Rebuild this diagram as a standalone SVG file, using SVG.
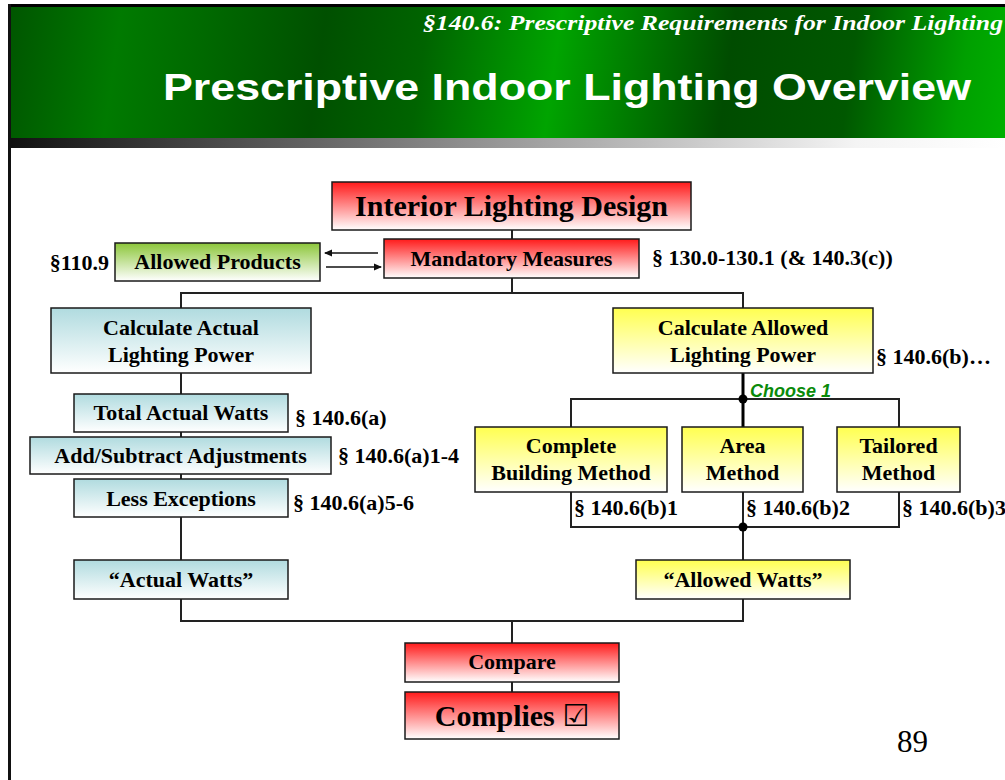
<svg xmlns="http://www.w3.org/2000/svg" width="1005" height="780" viewBox="0 0 1005 780">
<defs>
<linearGradient id="banner" x1="0" y1="0" x2="1005" y2="140" gradientUnits="userSpaceOnUse">
<stop offset="0" stop-color="#005200"/>
<stop offset="0.12" stop-color="#007a00"/>
<stop offset="0.2" stop-color="#006a00"/>
<stop offset="0.32" stop-color="#005000"/>
<stop offset="0.42" stop-color="#006400"/>
<stop offset="0.55" stop-color="#00a400"/>
<stop offset="0.63" stop-color="#007a00"/>
<stop offset="0.72" stop-color="#004c00"/>
<stop offset="0.84" stop-color="#005800"/>
<stop offset="0.95" stop-color="#00a000"/>
<stop offset="1" stop-color="#00b000"/>
</linearGradient>
<linearGradient id="bar" x1="0" y1="0" x2="1" y2="0">
<stop offset="0" stop-color="#111"/>
<stop offset="0.5" stop-color="#9a9a9a"/>
<stop offset="0.85" stop-color="#f4f4f4"/>
<stop offset="1" stop-color="#fff"/>
</linearGradient>
<linearGradient id="red" x1="0" y1="0" x2="0" y2="1">
<stop offset="0" stop-color="#ff1a1a"/>
<stop offset="1" stop-color="#ffffff"/>
</linearGradient>
<linearGradient id="blue" x1="0" y1="0" x2="0" y2="1">
<stop offset="0" stop-color="#b0dbdf"/>
<stop offset="1" stop-color="#ffffff"/>
</linearGradient>
<linearGradient id="yellow" x1="0" y1="0" x2="0" y2="1">
<stop offset="0" stop-color="#ffff50"/>
<stop offset="1" stop-color="#ffffff"/>
</linearGradient>
<linearGradient id="green" x1="0" y1="0" x2="0" y2="1">
<stop offset="0" stop-color="#8cc63a"/>
<stop offset="1" stop-color="#ffffff"/>
</linearGradient>
<marker id="ah" markerWidth="8" markerHeight="8" refX="7" refY="4" orient="auto" markerUnits="userSpaceOnUse">
<path d="M0,0.5 L8,4 L0,7.5 Z" fill="#111"/>
</marker>
<style>
.box{stroke:#1a1a1a;stroke-width:1.5}
.t{font-family:"Liberation Serif","Times New Roman",serif;font-weight:bold;fill:#000;text-anchor:middle}
.lbl{font-family:"Liberation Serif","Times New Roman",serif;font-weight:bold;fill:#000;font-size:22px}
.c{fill:none;stroke:#222;stroke-width:2}
.ct{fill:none;stroke:#000;stroke-width:3}
</style>
</defs>
<rect x="0" y="0" width="1005" height="780" fill="#fff"/>
<g id="banner-header">
<rect x="8" y="4" width="1000" height="134" fill="#000"/>
<rect x="11" y="7" width="994" height="131" fill="url(#banner)"/>
<rect x="11" y="138" width="994" height="10" fill="url(#bar)"/>
<rect x="8" y="4" width="3" height="776" fill="#111"/>
<text x="1003" y="30" text-anchor="end" font-family="'Liberation Serif',serif" font-style="italic" font-weight="bold" font-size="20" fill="#fff" textLength="580" lengthAdjust="spacingAndGlyphs">§140.6: Prescriptive Requirements for Indoor Lighting</text>
<text x="163" y="100" font-family="'Liberation Sans',Arial,sans-serif" font-weight="bold" font-size="36" fill="#fff" textLength="808" lengthAdjust="spacingAndGlyphs">Prescriptive Indoor Lighting Overview</text>
</g>
<g id="connectors">
<path class="c" d="M512 230 V239"/>
<path class="c" d="M512 278 V293"/>
<path class="c" d="M181 308 V293 H743 V308"/>
<path class="c" d="M181 373 V394"/>
<path class="c" d="M181 432 V437"/>
<path class="c" d="M181 474 V479"/>
<path class="c" d="M181 517 V560"/>
<path class="c" d="M181 599 V621 H743 V599"/>
<path class="c" d="M512 621 V643"/>
<path class="c" d="M512 682 V692"/>
<path class="ct" d="M743 373 V427"/>
<path class="c" d="M571 427 V399 H899 V427"/>
<circle cx="743" cy="399" r="4.5" fill="#000"/>
<path class="c" d="M571 492 V527 H899 V492"/>
<path class="c" d="M743 492 V560"/>
<circle cx="743" cy="527" r="4.5" fill="#000"/>
<line x1="378" y1="253" x2="325" y2="253" stroke="#111" stroke-width="1.5" marker-end="url(#ah)"/>
<line x1="326" y1="267" x2="381" y2="267" stroke="#111" stroke-width="1.5" marker-end="url(#ah)"/>
</g>
<g id="interior-lighting-design">
<rect class="box" x="332" y="182" width="359" height="48" fill="url(#red)"/>
<text class="t" x="511.5" y="216" font-size="30">Interior Lighting Design</text>
</g>
<g id="mandatory-measures">
<rect class="box" x="384" y="239" width="255" height="39" fill="url(#red)"/>
<text class="t" x="511.5" y="266" font-size="22">Mandatory Measures</text>
<text class="lbl" x="652" y="265">§ 130.0-130.1 (&amp; 140.3(c))</text>
</g>
<g id="allowed-products">
<rect class="box" x="115" y="243" width="205" height="38" fill="url(#green)"/>
<text class="t" x="217.5" y="269" font-size="22">Allowed Products</text>
<text class="lbl" x="109" y="270" text-anchor="end">§110.9</text>
</g>
<g id="calc-actual">
<rect class="box" x="51" y="308" width="260" height="65" fill="url(#blue)"/>
<text class="t" x="181" y="335" font-size="22">Calculate Actual</text>
<text class="t" x="181" y="362" font-size="22">Lighting Power</text>
</g>
<g id="total-actual-watts">
<rect class="box" x="74" y="394" width="214" height="38" fill="url(#blue)"/>
<text class="t" x="181" y="420" font-size="22">Total Actual Watts</text>
<text class="lbl" x="295" y="425">§ 140.6(a)</text>
</g>
<g id="add-subtract">
<rect class="box" x="30" y="437" width="301" height="37" fill="url(#blue)"/>
<text class="t" x="180.5" y="463" font-size="22">Add/Subtract Adjustments</text>
<text class="lbl" x="338" y="463">§ 140.6(a)1-4</text>
</g>
<g id="less-exceptions">
<rect class="box" x="74" y="479" width="214" height="38" fill="url(#blue)"/>
<text class="t" x="181" y="506" font-size="22">Less Exceptions</text>
<text class="lbl" x="293" y="510">§ 140.6(a)5-6</text>
</g>
<g id="actual-watts">
<rect class="box" x="74" y="560" width="214" height="39" fill="url(#blue)"/>
<text class="t" x="181" y="587" font-size="22">“Actual Watts”</text>
</g>
<g id="calc-allowed">
<rect class="box" x="613" y="308" width="260" height="65" fill="url(#yellow)"/>
<text class="t" x="743" y="335" font-size="22">Calculate Allowed</text>
<text class="t" x="743" y="362" font-size="22">Lighting Power</text>
<text class="lbl" x="876" y="364">§ 140.6(b)…</text>
<text x="750" y="397" font-family="'Liberation Sans',Arial,sans-serif" font-style="italic" font-weight="bold" font-size="18" fill="#0a8a0a">Choose 1</text>
</g>
<g id="complete-building">
<rect class="box" x="475" y="427" width="192" height="65" fill="url(#yellow)"/>
<text class="t" x="571" y="453" font-size="22">Complete</text>
<text class="t" x="571" y="480" font-size="22">Building Method</text>
<text class="lbl" x="574" y="515">§ 140.6(b)1</text>
</g>
<g id="area-method">
<rect class="box" x="682" y="427" width="121" height="65" fill="url(#yellow)"/>
<text class="t" x="742.5" y="453" font-size="22">Area</text>
<text class="t" x="742.5" y="480" font-size="22">Method</text>
<text class="lbl" x="746" y="515">§ 140.6(b)2</text>
</g>
<g id="tailored-method">
<rect class="box" x="837" y="427" width="123" height="65" fill="url(#yellow)"/>
<text class="t" x="898.5" y="453" font-size="22">Tailored</text>
<text class="t" x="898.5" y="480" font-size="22">Method</text>
<text class="lbl" x="902" y="515">§ 140.6(b)3</text>
</g>
<g id="allowed-watts">
<rect class="box" x="636" y="560" width="214" height="39" fill="url(#yellow)"/>
<text class="t" x="743" y="587" font-size="22">“Allowed Watts”</text>
</g>
<g id="compare">
<rect class="box" x="405" y="643" width="214" height="39" fill="url(#red)"/>
<text class="t" x="512" y="669" font-size="22">Compare</text>
</g>
<g id="complies">
<rect class="box" x="405" y="692" width="214" height="47" fill="url(#red)"/>
<text class="t" x="512" y="726" font-size="30">Complies <tspan font-family="'DejaVu Sans',sans-serif" font-weight="bold" font-size="30">☑</tspan></text>
</g>
<text x="897" y="752" font-family="'Liberation Serif',serif" font-size="31" fill="#000">89</text>
</svg>
